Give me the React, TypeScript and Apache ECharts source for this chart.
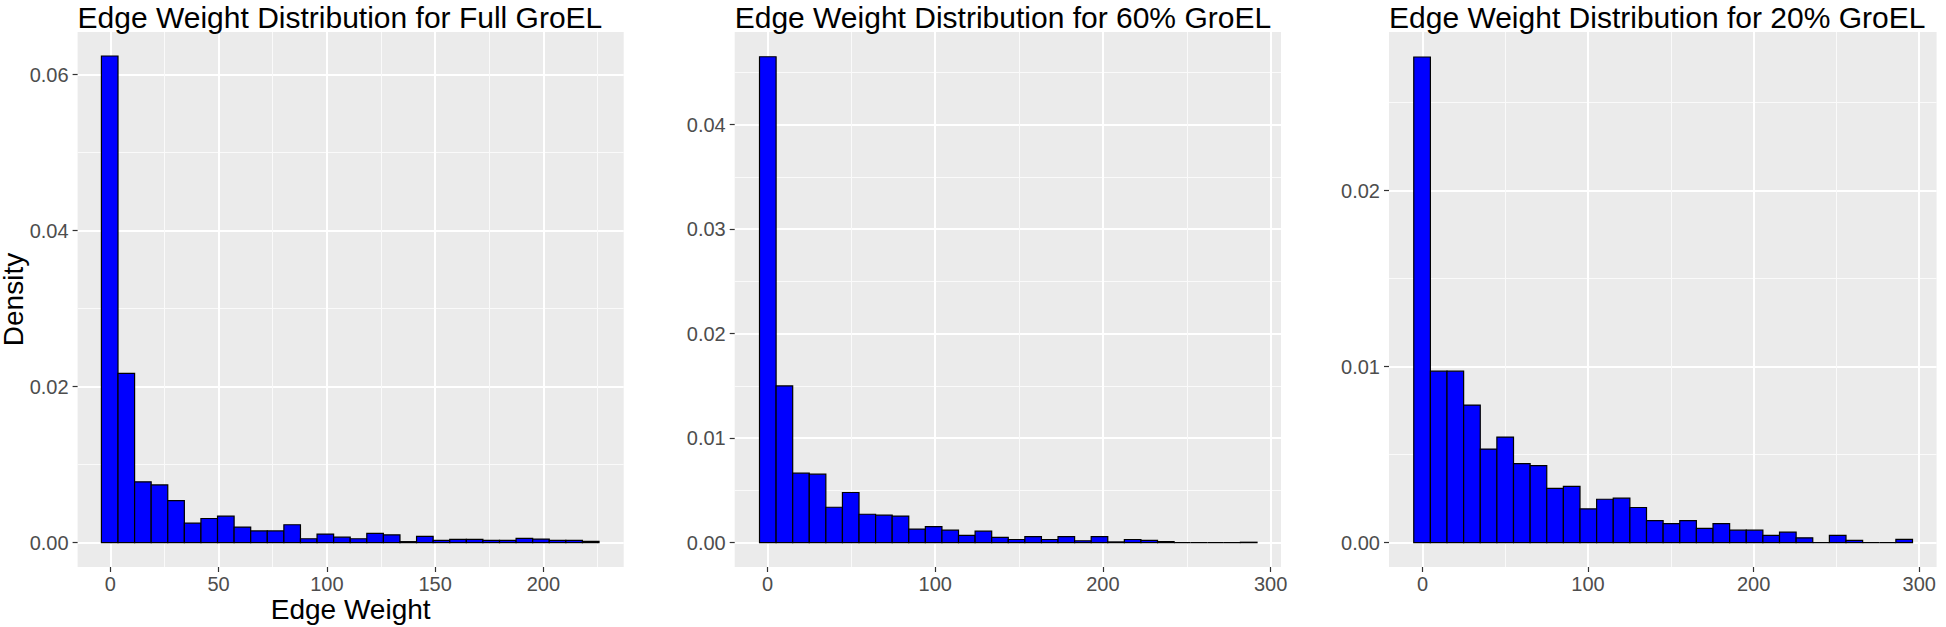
import React, { useEffect, useRef } from "react";
import * as echarts from "echarts";

// ---- data ----
const panelTitles = [
  "Edge Weight Distribution for Full GroEL",
  "Edge Weight Distribution for 60% GroEL",
  "Edge Weight Distribution for 20% GroEL",
];
const xAxisTitle = "Edge Weight";
const yAxisTitle = "Density";

const fullDensity = [
  0.0624, 0.0217, 0.0078, 0.0074, 0.0054, 0.0025, 0.0031, 0.0034, 0.002, 0.0015,
  0.0015, 0.0023, 0.0005, 0.0011, 0.0007, 0.0005, 0.0012, 0.001, 0.00013, 0.0008,
  0.0003, 0.00042, 0.00042, 0.0003, 0.0003, 0.00055, 0.00046, 0.0003, 0.0003, 0.00016,
];
const sixtyDensity = [
  0.0465, 0.015, 0.00665, 0.00655, 0.00339, 0.0048, 0.00272, 0.00263, 0.00254, 0.0013,
  0.00153, 0.0012, 0.0007, 0.0011, 0.0005, 0.0003, 0.00058, 0.0003, 0.00058, 0.00018,
  0.00058, 0.00007, 0.0003, 0.00022, 0.0001, 0, 0, 0, 0, 0.00004,
];
const twentyDensity = [
  0.0276, 0.00975, 0.00975, 0.00782, 0.00532, 0.006, 0.00449, 0.00438, 0.00309, 0.0032,
  0.00192, 0.00247, 0.00253, 0.002, 0.00126, 0.00108, 0.00126, 0.00082, 0.00108, 0.00071,
  0.00071, 0.00042, 0.0006, 0.00028, 0, 0.00042, 0.00013, 0, 0, 0.00019,
];

// first bin left edge and bin width (Edge Weight units)
const binStart = [-4.1, -4.8, -5.25];
const binWidth = [7.66, 9.89, 10.04];

// axis ticks
const xMajorFull = [0, 50, 100, 150, 200];
const xMinorFull = [25, 75, 125, 175, 225];
const xMajorSub = [0, 100, 200, 300];
const xMinorSub = [50, 150, 250];
const yMajorFull = [0, 0.02, 0.04, 0.06];
const yMinorFull = [0.01, 0.03, 0.05];
const yMajorSixty = [0, 0.01, 0.02, 0.03, 0.04];
const yMinorSixty = [0.005, 0.015, 0.025, 0.035, 0.045];
const yMajorTwenty = [0, 0.01, 0.02];
const yMinorTwenty = [0.005, 0.015, 0.025];

// axis extents
const xRanges = [
  [-15.1, 237.1],
  [-19.6, 306.2],
  [-20.2, 310.5],
];
const yRanges = [
  [-0.00312, 0.06548],
  [-0.00233, 0.04887],
  [-0.00138, 0.02902],
];

const densities = [fullDensity, sixtyDensity, twentyDensity];
const xMajors = [xMajorFull, xMajorSub, xMajorSub];
const xMinors = [xMinorFull, xMinorSub, xMinorSub];
const yMajors = [yMajorFull, yMajorSixty, yMajorTwenty];
const yMinors = [yMinorFull, yMinorSixty, yMinorTwenty];

// layout
const grids = [
  { left: 77.6, top: 32, width: 546.1, height: 535 },
  { left: 734.7, top: 32, width: 546.3, height: 535 },
  { left: 1389, top: 32, width: 547.6, height: 535 },
];

const FONT = "'Liberation Sans', Arial, Helvetica, sans-serif";

export default function App() {
  const ref = useRef<HTMLDivElement>(null);

  useEffect(() => {
    if (!ref.current) return;
    const chart = echarts.init(ref.current, null, { renderer: "svg" });

    const xAxis: any[] = [];
    const yAxis: any[] = [];
    const series: any[] = [];

    for (let p = 0; p < 3; p++) {
      xAxis.push({
        type: "value",
        gridIndex: p,
        min: xRanges[p][0],
        max: xRanges[p][1],
        name: p === 0 ? xAxisTitle : "",
        nameLocation: "middle",
        nameGap: 28,
        nameMoveOverlap: false,
        nameTextStyle: { fontSize: 28, color: "#000", fontFamily: FONT },
        axisLine: { show: false, onZero: false },
        axisTick: { show: true, length: 5, customValues: xMajors[p], lineStyle: { color: "#333333", width: 1.2 } },
        axisLabel: {
          show: true,
          customValues: xMajors[p],
          margin: 7,
          fontSize: 20,
          color: "#4D4D4D",
          fontFamily: FONT,
          formatter: (v: number) => String(Math.round(v)),
        },
        splitLine: { show: true, lineStyle: { color: "#FFFFFF", width: 2 } },
        minorSplitLine: { show: false },
      });
      yAxis.push({
        type: "value",
        gridIndex: p,
        min: yRanges[p][0],
        max: yRanges[p][1],
        axisLine: { show: false, onZero: false },
        axisTick: { show: true, length: 5, customValues: yMajors[p], lineStyle: { color: "#333333", width: 1.2 } },
        axisLabel: {
          show: true,
          customValues: yMajors[p],
          margin: 9,
          fontSize: 20,
          color: "#4D4D4D",
          fontFamily: FONT,
          formatter: (v: number) => v.toFixed(2),
        },
        splitLine: { show: true, lineStyle: { color: "#FFFFFF", width: 2 } },
      });
    }
    // minor grid axes
    for (let p = 0; p < 3; p++) {
      xAxis.push({
        type: "value",
        gridIndex: p,
        min: xRanges[p][0],
        max: xRanges[p][1],
        axisLine: { show: false, onZero: false },
        axisTick: { show: false, customValues: xMinors[p] },
        axisLabel: { show: false, customValues: xMinors[p] },
        splitLine: { show: true, lineStyle: { color: "#FAFAFA", width: 1 } },
      });
      yAxis.push({
        type: "value",
        gridIndex: p,
        min: yRanges[p][0],
        max: yRanges[p][1],
        axisLine: { show: false, onZero: false },
        axisTick: { show: false, customValues: yMinors[p] },
        axisLabel: { show: false, customValues: yMinors[p] },
        splitLine: { show: true, lineStyle: { color: "#FAFAFA", width: 1 } },
      });
    }

    for (let p = 0; p < 3; p++) {
      const data = densities[p].map((d, i) => [
        binStart[p] + i * binWidth[p],
        binStart[p] + (i + 1) * binWidth[p],
        d,
      ]);
      series.push({
        type: "custom",
        xAxisIndex: p,
        yAxisIndex: p,
        data,
        encode: { x: [0, 1], y: 2 },
        z: 10,
        renderItem: (_params: any, api: any) => {
          const x0 = api.value(0);
          const x1 = api.value(1);
          const y = api.value(2);
          const a = api.coord([x0, y]);
          const b = api.coord([x1, 0]);
          return {
            type: "rect",
            shape: { x: a[0], y: a[1], width: b[0] - a[0], height: b[1] - a[1] },
            style: { fill: "#0000FF", stroke: "#000000", lineWidth: 1.2 },
          };
        },
      });
    }

    chart.setOption({
      animation: false,
      backgroundColor: "#FFFFFF",
      textStyle: { fontFamily: FONT },
      title: panelTitles.map((t, p) => ({
        text: t,
        left: grids[p].left,
        top: 2,
        padding: 0,
        textStyle: { fontSize: 30, fontWeight: "normal", color: "#000000", fontFamily: FONT },
      })),
      graphic: [
        {
          type: "text",
          x: 13,
          y: grids[0].top + grids[0].height / 2,
          rotation: Math.PI / 2,
          style: {
            text: yAxisTitle,
            fontSize: 28,
            fontFamily: FONT,
            fill: "#000000",
            align: "center",
            verticalAlign: "middle",
          },
        },
      ],
      grid: grids.map((g) => ({
        ...g,
        show: true,
        backgroundColor: "#EBEBEB",
        borderWidth: 0,
        containLabel: false,
        outerBoundsMode: "none",
      })),
      xAxis,
      yAxis,
      series,
    });

    return () => chart.dispose();
  }, []);

  return (
    <div
      ref={ref}
      style={{ position: "fixed", left: 0, top: 0, width: 1946, height: 627, background: "#fff" }}
    />
  );
}
